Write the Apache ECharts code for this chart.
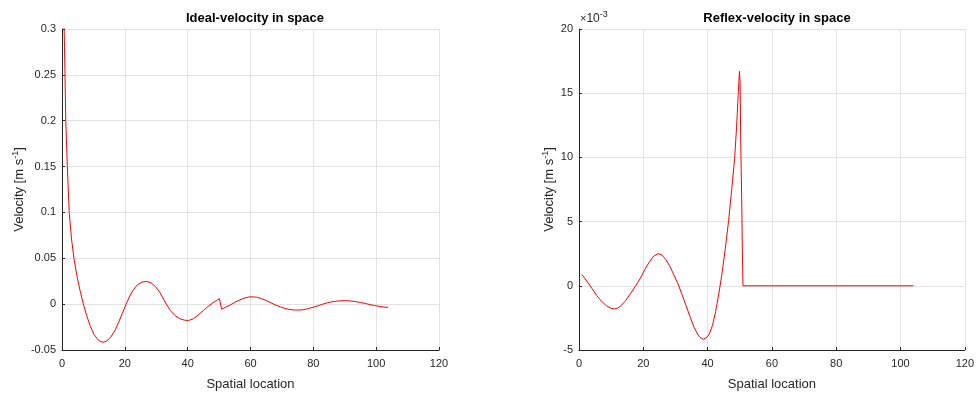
<!DOCTYPE html>
<html>
<head>
<meta charset="utf-8">
<script src="https://cdn.jsdelivr.net/npm/echarts@6/dist/echarts.min.js"></script>
<style>
  html, body { margin: 0; padding: 0; background: #fff; }
  #chart { width: 977px; height: 396px; }
</style>
</head>
<body>
<div id="chart"></div>
<script>
// ideal velocity (m/s) vs spatial location
const idealX = [0.5, 0.8, 1.0, 1.2, 1.7, 2.3, 3.0, 3.8, 4.8, 5.8, 6.8, 7.8, 9.0, 10.2, 11.5, 12.5, 13.3, 14.3, 15.5, 16.8,
  18.0, 19.2, 20.4, 21.6, 22.8, 24.0, 25.4, 27.0, 28.4, 29.8, 31.2, 33.2, 34.5, 36.0, 37.5, 39.0, 40.3, 41.8, 43.3, 45.0,
  46.5, 48.0, 49.2, 50.1, 50.8, 52.0, 53.5, 55.0, 56.5, 58.0, 59.5, 60.5, 62.0, 63.5, 65.0, 66.5, 68.0, 69.5, 71.0, 72.5,
  74.0, 75.5, 77.0, 78.5, 80.0, 81.5, 83.0, 84.5, 86.0, 87.5, 89.0, 90.6, 92.0, 93.5, 95.0, 96.5, 98.0, 99.5, 101.0, 102.5, 103.8];
const idealV = [0.33, 0.28, 0.24, 0.2, 0.15, 0.1, 0.072, 0.05, 0.03, 0.014, 0.0, -0.012, -0.024, -0.033, -0.039, -0.041, -0.0415, -0.040, -0.036, -0.029,
  -0.020, -0.010, 0.0, 0.009, 0.016, 0.021, 0.024, 0.0248, 0.023, 0.019, 0.0125, 0.0, -0.007, -0.0125, -0.016, -0.0175, -0.0178, -0.016, -0.012, -0.007,
  -0.0025, 0.0015, 0.004, 0.006, -0.0054, -0.0035, -0.001, 0.002, 0.0045, 0.0065, 0.0078, 0.008, 0.0075, 0.006, 0.004, 0.0015, -0.001, -0.003, -0.0048, -0.0058,
  -0.0064, -0.0065, -0.006, -0.0048, -0.0033, -0.0018, 0.0, 0.0015, 0.0026, 0.0033, 0.0037, 0.0038, 0.0034, 0.0027, 0.0018, 0.0008, -0.0005, -0.0015, -0.0025, -0.0032, -0.0035];

// reflex velocity, in units of 1e-3 m/s
const reflexX = [0.9, 2.5, 4.0, 5.5, 7.0, 8.5, 10.0, 11.0, 12.0, 13.2, 14.5, 16.0, 17.5, 19.0, 20.5, 22.0, 23.3, 24.6, 25.8, 27.0,
  28.2, 29.5, 30.8, 32.0, 33.3, 34.6, 35.8, 37.0, 37.6, 38.2, 38.7, 39.3, 39.9, 40.5, 41.5, 42.5, 43.5, 44.5, 45.5, 46.5, 47.5, 48.4,
  49.0, 49.5, 49.9, 50.1, 50.3, 50.6, 50.85, 51.0, 104.0];
const reflexV = [0.87, 0.35, -0.2, -0.75, -1.2, -1.55, -1.76, -1.8, -1.74, -1.52, -1.15, -0.62, -0.05, 0.55, 1.28, 1.9, 2.33, 2.5, 2.4, 2.05,
  1.55, 0.85, 0.15, -0.65, -1.55, -2.45, -3.25, -3.8, -4.02, -4.14, -4.17, -4.12, -3.98, -3.75, -3.1, -2.0, -0.6, 1.0, 2.9, 5.0, 7.5, 9.9,
  12.3, 14.8, 16.7, 15.9, 11.2, 6.7, 2.0, 0.0, 0.0];

const titles = ['Ideal-velocity in space', 'Reflex-velocity in space'];
const xLabel = 'Spatial location';

const font = '"Liberation Sans", Arial, sans-serif';
const ink = '#262626';
const gridColor = '#e3e3e3';

const chart = echarts.init(document.getElementById('chart'));

function xAxisFor(idx) {
  return {
    gridIndex: idx,
    type: 'value',
    min: 0, max: 120, interval: 20,
    name: xLabel,
    nameLocation: 'middle',
    nameGap: 28,
    nameTextStyle: { fontFamily: font, fontSize: 13, color: ink },
    axisLine: { onZero: false, lineStyle: { color: ink, width: 1 } },
    axisTick: { inside: true, length: 3, lineStyle: { color: ink } },
    axisLabel: { fontFamily: font, fontSize: 11, color: ink, margin: 8 },
    splitLine: { show: true, lineStyle: { color: gridColor } }
  };
}

function yAxisFor(idx, min, max, interval, gap, fmt) {
  return {
    gridIndex: idx,
    type: 'value',
    min, max, interval,
    name: 'Velocity [m s{sup|-1}]',
    nameLocation: 'middle',
    nameGap: gap,
    nameTextStyle: {
      fontFamily: font, fontSize: 13, color: ink,
      rich: { sup: { fontFamily: font, fontSize: 9, color: ink, padding: [0, 0, 8, 0] } }
    },
    axisLine: { show: true, lineStyle: { color: ink, width: 1 } },
    axisTick: { show: true, inside: true, length: 3, lineStyle: { color: ink } },
    axisLabel: { fontFamily: font, fontSize: 11, color: ink, margin: 6, formatter: fmt },
    splitLine: { show: true, lineStyle: { color: gridColor } }
  };
}

chart.setOption({
  animation: false,
  backgroundColor: '#fff',
  title: [
    { text: titles[0], left: 250, top: 7, textAlign: 'center',
      textStyle: { fontFamily: font, fontSize: 13, fontWeight: 'bold', color: '#000' } },
    { text: titles[1], left: 772, top: 7, textAlign: 'center',
      textStyle: { fontFamily: font, fontSize: 13, fontWeight: 'bold', color: '#000' } }
  ],
  grid: [
    { left: 62, right: 538, top: 29, bottom: 45 },
    { left: 579, right: 12, top: 29, bottom: 43 }
  ],
  xAxis: [xAxisFor(0), xAxisFor(1)],
  yAxis: [
    yAxisFor(0, -0.05, 0.3, 0.05, 34, v => String(+v.toFixed(2))),
    yAxisFor(1, -5, 20, 5, 21, v => String(Math.round(v)))
  ],
  graphic: [{
    type: 'text',
    left: 580, top: 10,
    style: {
      text: '\u00d7{b|10}{s|-3}',
      fontFamily: font, fontSize: 11, fill: ink,
      rich: {
        b: { fontFamily: font, fontSize: 12, fill: ink },
        s: { fontFamily: font, fontSize: 9, fill: ink, padding: [0, 0, 9, 0] }
      }
    }
  }],
  series: [
    {
      type: 'line', xAxisIndex: 0, yAxisIndex: 0,
      data: idealX.map((x, i) => [x, idealV[i]]),
      showSymbol: false, clip: true,
      lineStyle: { color: '#ff0000', width: 1 }
    },
    {
      type: 'line', xAxisIndex: 1, yAxisIndex: 1,
      data: reflexX.map((x, i) => [x, reflexV[i]]),
      showSymbol: false, clip: true,
      lineStyle: { color: '#ff0000', width: 1 }
    }
  ]
});
</script>
</body>
</html>
